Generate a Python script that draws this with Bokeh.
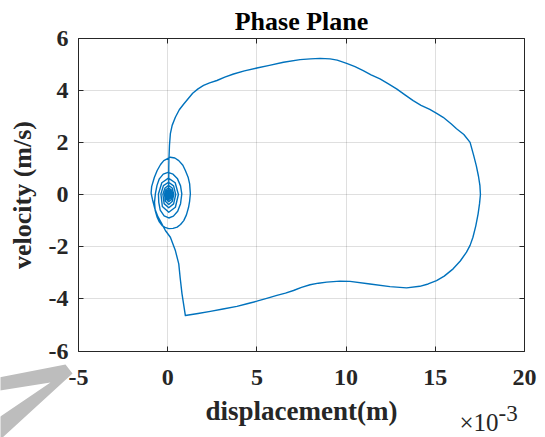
from bokeh.plotting import figure
from bokeh.models import Range1d, FixedTicker, LinearAxis, Label, PolyAnnotation, Grid
from bokeh.embed import file_html
from bokeh.resources import INLINE

# Phase-plane trajectory: displacement in units of 1e-3 m, velocity in m/s.
# Launch from rest and the upper arc of the large orbit
launch_x = [0.05, 0.06, 0.06, 0.07, 0.10, 0.15, 0.25, 0.43, 0.65, 0.90, 1.40, 1.70, 2.01,
            2.35, 2.76, 3.20, 3.69, 4.30, 5.00, 5.70, 6.49, 7.42, 8.00, 8.54, 9.10, 9.50, 10.03]
launch_v = [0.00, 0.50, 1.00, 1.37, 1.90, 2.33, 2.65, 2.96, 3.25, 3.47, 3.88, 4.05, 4.18,
            4.28, 4.37, 4.50, 4.62, 4.74, 4.85, 4.95, 5.07, 5.17, 5.20, 5.22, 5.20, 5.15, 5.03]

# Turn-around at maximum displacement
swing_x = [10.50, 10.96, 11.40, 11.90, 12.35, 12.83, 13.30, 13.76, 14.20, 14.69, 15.10, 15.44,
           15.90, 16.19, 16.60, 16.95, 17.15, 17.30, 17.42, 17.50, 17.53, 17.48, 17.40, 17.27,
           17.11, 16.95, 16.75, 16.40, 16.00, 15.50, 15.07, 14.60, 14.13, 13.39, 12.46, 11.34,
           10.22, 9.66]
swing_v = [4.90, 4.75, 4.59, 4.43, 4.25, 4.05, 3.82, 3.60, 3.42, 3.26, 3.10, 2.96,
           2.70, 2.52, 2.30, 2.00, 1.50, 1.10, 0.70, 0.35, 0.00, -0.35, -0.74, -1.20,
           -1.64, -1.95, -2.21, -2.55, -2.85, -3.13, -3.30, -3.43, -3.52, -3.58, -3.53, -3.43,
           -3.33, -3.32]

# Return stroke, impact and rebound towards equilibrium
return_x = [8.91, 8.45, 7.98, 7.50, 7.05, 6.60, 6.12, 5.55, 5.00, 4.45, 3.88, 3.10, 2.39,
            1.70, 0.99, 0.80, 0.70, 0.62, 0.43, 0.15, -0.13, -0.35, -0.55, -0.72, -0.85,
            -0.93, -0.90]
return_v = [-3.36, -3.40, -3.46, -3.56, -3.68, -3.78, -3.87, -3.98, -4.09, -4.19, -4.29, -4.39,
            -4.48, -4.56, -4.64, -3.80, -3.20, -2.66, -2.15, -1.64, -1.38, -1.10, -0.85, -0.55,
            -0.20, 0.05, 0.30]

# Decaying spiral into the origin
spiral_x = [-0.75, -0.59, -0.40, -0.22, 0.15, 0.40, 0.62, 0.85, 0.99, 1.15, 1.23, 1.27,
            1.23, 1.17, 1.05, 0.90, 0.72, 0.53, 0.30, 0.06, -0.15, -0.31, -0.47, -0.59,
            -0.70, -0.74,
            -0.69, -0.60, -0.47, -0.25, 0.02, 0.30, 0.55, 0.72, 0.79, 0.72, 0.56, 0.32,
            0.06, -0.20, -0.42, -0.50,
            -0.52, -0.33, 0.04, 0.42, 0.60, 0.43, 0.06, -0.30,
            -0.38, -0.24, 0.05, 0.33, 0.45, 0.33, 0.06, -0.20,
            -0.27, -0.15, 0.05, 0.25, 0.34, 0.25, 0.06, -0.13,
            -0.18, -0.09, 0.05, 0.19, 0.26, 0.19, 0.06, -0.07,
            -0.11, -0.05, 0.05, 0.15, 0.20, 0.14, 0.06, -0.03,
            -0.06, -0.02, 0.05, 0.11, 0.15, 0.11, 0.05, -0.01,
            -0.02, 0.05, 0.11, 0.05, 0.01, 0.05, 0.08, 0.05, 0.05]
spiral_v = [0.65, 0.92, 1.15, 1.30, 1.43, 1.40, 1.30, 1.12, 0.92, 0.65, 0.41, 0.03,
            -0.25, -0.49, -0.78, -1.00, -1.15, -1.25, -1.30, -1.31, -1.26, -1.19, -1.05, -0.87,
            -0.62, -0.30,
            0.03, 0.35, 0.60, 0.78, 0.85, 0.78, 0.60, 0.33, 0.02, -0.35, -0.64, -0.83,
            -0.90, -0.82, -0.60, -0.30,
            0.02, 0.45, 0.63, 0.45, 0.00, -0.49, -0.68, -0.46,
            0.02, 0.34, 0.47, 0.33, 0.00, -0.36, -0.51, -0.35,
            0.01, 0.25, 0.35, 0.25, 0.00, -0.27, -0.38, -0.26,
            0.01, 0.19, 0.26, 0.18, 0.00, -0.20, -0.28, -0.19,
            0.00, 0.14, 0.19, 0.13, 0.00, -0.14, -0.20, -0.14,
            0.00, 0.10, 0.14, 0.10, 0.00, -0.10, -0.14, -0.10,
            0.00, 0.09, 0.00, -0.09, 0.00, 0.05, 0.00, -0.03, 0.00]

x_ticks = [-5, 0, 5, 10, 15, 20]
x_tick_labels = ["-5", "0", "5", "10", "15", "20"]
y_ticks = [-6, -4, -2, 0, 2, 4, 6]
y_tick_labels = ["-6", "-4", "-2", "0", "2", "4", "6"]

displacement = launch_x + swing_x + return_x + spiral_x
velocity = launch_v + swing_v + return_v + spiral_v

SERIF = "Liberation Serif"
AX = "#262626"

# Page geometry: the plot frame fills the canvas, the axes box sits inside it.
W, H = 545, 437
BOX_L, BOX_R, BOX_T, BOX_B = 78, 524, 37.5, 350.5
X0, X1 = x_ticks[0], x_ticks[-1]
Y0, Y1 = y_ticks[0], y_ticks[-1]
KX = (BOX_R - BOX_L) / (X1 - X0)
KY = (BOX_B - BOX_T) / (Y1 - Y0)


def px_x(px):
    return X0 + (px - BOX_L) / KX


def px_y(py):
    return Y0 + (BOX_B - py) / KY


p = figure(width=W, height=H, x_range=Range1d(px_x(0), px_x(W)), y_range=Range1d(px_y(H), px_y(0)),
           output_backend="svg", toolbar_location=None, title=None,
           x_axis_location=None, y_axis_location=None,
           min_border=0, min_border_left=0, min_border_right=0, min_border_top=0, min_border_bottom=0,
           background_fill_color="white", border_fill_color="white", outline_line_color=None)
p.grid.visible = False

# grid inside the axes box only
for dim, ticks, bounds, cross in ((0, x_ticks, (X0, X1), (Y0, Y1)), (1, y_ticks, (Y0, Y1), (X0, X1))):
    g = Grid(dimension=dim, ticker=FixedTicker(ticks=ticks), bounds=bounds,
             grid_line_color=AX, grid_line_alpha=0.15, grid_line_width=1)
    if "cross_bounds" in Grid.properties():
        g.cross_bounds = cross
        p.add_layout(g, "center")
    else:
        if dim == 0:
            p.segment(x0=ticks, y0=[Y0] * len(ticks), x1=ticks, y1=[Y1] * len(ticks),
                      line_color=AX, line_alpha=0.15, line_width=1)
        else:
            p.segment(x0=[X0] * len(ticks), y0=ticks, x1=[X1] * len(ticks), y1=ticks,
                      line_color=AX, line_alpha=0.15, line_width=1)

p.line(displacement, velocity, line_color="#0072BD", line_width=1.4, line_join="round")


def box_axis(side, ticks, labels, loc, bounds):
    ax = LinearAxis(ticker=FixedTicker(ticks=ticks), fixed_location=loc, bounds=bounds,
                    major_tick_in=5, major_tick_out=0, axis_line_color=AX, axis_line_width=1,
                    major_tick_line_color=AX, minor_tick_line_color=None)
    if labels is None:
        ax.major_label_text_color = None
    else:
        ax.major_label_overrides = dict(zip(ticks, labels))
        ax.major_label_text_font = SERIF
        ax.major_label_text_font_size = "24px"
        ax.major_label_text_font_style = "bold"
        ax.major_label_text_color = AX
        ax.axis_label_text_font = SERIF
        ax.axis_label_text_font_style = "bold"
        ax.axis_label_text_color = AX
    p.add_layout(ax, side)
    return ax


xa = box_axis("below", x_ticks, x_tick_labels, Y0, (X0, X1))
ya = box_axis("left", y_ticks, y_tick_labels, X0, (Y0, Y1))
box_axis("above", x_ticks, None, Y1, (X0, X1))
box_axis("right", y_ticks, None, X1, (Y0, Y1))

xa.axis_label = "displacement(m)"
xa.axis_label_text_font_size = "27px"
xa.major_label_standoff = 19
xa.axis_label_standoff = 7
ya.axis_label = "velocity (m/s)"
ya.axis_label_text_font_size = "26px"
ya.major_label_standoff = 10
ya.axis_label_standoff = 9

p.add_layout(Label(x=(X0 + X1) / 2, y=px_y(21), text="Phase Plane", text_font=SERIF,
                   text_font_size="26px", text_font_style="bold", text_color="black",
                   text_align="center", text_baseline="alphabetic"))

# exponent note for the displacement axis
p.add_layout(Label(x=px_x(459), y=px_y(422), text="\u00d710", text_font=SERIF, text_font_size="25px",
                   text_color=AX, text_baseline="alphabetic", text_align="left"))
p.add_layout(Label(x=px_x(498), y=px_y(413), text="-3", text_font=SERIF, text_font_size="23px",
                   text_color=AX, text_baseline="alphabetic", text_align="left"))

# grey pointer stroke in the lower-left corner
v_px = [(-5, 377.7), (65, 364), (72, 373), (-3.4, 442), (-5, 442), (-5, 419.4), (50, 382), (-5, 390.8)]
p.add_layout(PolyAnnotation(xs=[px_x(a) for a, _ in v_px], ys=[px_y(b) for _, b in v_px],
                            fill_color="#bdbdbd", fill_alpha=1.0, line_color=None))

open("out.html", "w").write(file_html(p, INLINE))
